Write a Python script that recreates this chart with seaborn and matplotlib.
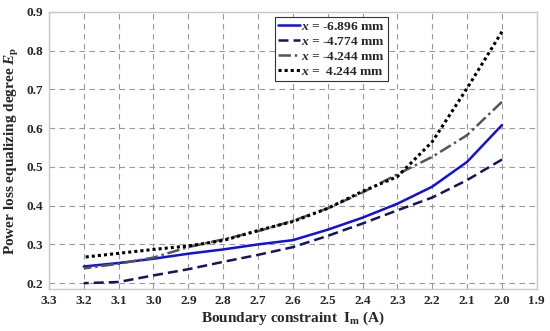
import matplotlib
matplotlib.use("Agg")
import matplotlib.pyplot as plt
import seaborn as sns
import pandas as pd

current = [3.2, 3.1, 3.0, 2.9, 2.8, 2.7, 2.6, 2.5, 2.4, 2.3, 2.2, 2.1, 2.0]
ep_m6896 = [0.243, 0.252, 0.263, 0.276, 0.287, 0.300, 0.311, 0.338, 0.369, 0.405, 0.449, 0.513, 0.608]
ep_m4774 = [0.200, 0.203, 0.220, 0.236, 0.255, 0.273, 0.293, 0.322, 0.354, 0.388, 0.421, 0.466, 0.519]
ep_m4244 = [0.238, 0.250, 0.266, 0.293, 0.313, 0.334, 0.361, 0.393, 0.434, 0.481, 0.526, 0.582, 0.668]
ep_p4244 = [0.267, 0.277, 0.287, 0.296, 0.310, 0.336, 0.359, 0.393, 0.437, 0.475, 0.565, 0.703, 0.849]
labels = [r"$x$ = -6.896 mm", r"$x$ = -4.774 mm", r"$x$ = -4.244 mm", r"$x$ =  4.244 mm"]
xticks = [3.3, 3.2, 3.1, 3.0, 2.9, 2.8, 2.7, 2.6, 2.5, 2.4, 2.3, 2.2, 2.1, 2.0, 1.9]
yticks = [0.2, 0.3, 0.4, 0.5, 0.6, 0.7, 0.8, 0.9]

sns.set_style("white")
plt.rcParams["font.family"] = ["Liberation Serif", "DejaVu Serif"]
plt.rcParams["font.weight"] = "bold"
plt.rcParams["mathtext.fontset"] = "custom"
plt.rcParams["mathtext.rm"] = "Liberation Serif:bold"
plt.rcParams["mathtext.it"] = "Liberation Serif:bold:italic"
plt.rcParams["mathtext.bf"] = "Liberation Serif:bold"

fig = plt.figure(figsize=(5.5, 3.31), dpi=100)
ax = fig.add_axes([0.089, 0.127, 0.887, 0.837])

series = [ep_m6896, ep_m4774, ep_m4244, ep_p4244]
colors = ["#1010e0", "#14145e", "#555555", "#000000"]
styles = ["-", (0, (4, 2)), (0, (5, 1.5, 1, 1.5)), (0, (1, 1))]
widths = [1.8, 1.8, 1.8, 2.2]
for vals, lab, c, ls, lw in zip(series, labels, colors, styles, widths):
    df = pd.DataFrame({"I": current, "Ep": vals})
    sns.lineplot(data=df, x="I", y="Ep", ax=ax, color=c, linestyle=ls, linewidth=lw, label=lab)

ax.set_xlim(3.3, 1.9)
ax.set_ylim(0.185, 0.9)
ax.set_xticks(xticks)
ax.set_xticklabels([f"{t:.1f}" for t in xticks])
ax.set_yticks(yticks)
ax.set_yticklabels([f"{t:.1f}" for t in yticks])
ax.tick_params(axis="both", labelsize=9.5, length=0, pad=4)
for lab in ax.get_xticklabels() + ax.get_yticklabels():
    lab.set_fontweight("bold")
ax.grid(True, color="#999999", linestyle=(0, (5, 4)), linewidth=0.8)
for sp in ax.spines.values():
    sp.set_color("#c8c8c8")
    sp.set_linewidth(1.0)

ax.set_xlabel(r"Boundary constraint  I$_\mathrm{m}$ (A)", fontsize=11, fontweight="bold", labelpad=2)
ax.set_ylabel(r"Power loss equalizing degree $E_\mathrm{p}$", fontsize=11, fontweight="bold", labelpad=4)

leg = ax.legend(loc="upper left", bbox_to_anchor=(0.463, 0.982), fontsize=9.7, frameon=True,
                fancybox=False, framealpha=1, edgecolor="#333333", handlelength=1.6,
                handletextpad=0.1, borderpad=0.25, labelspacing=0.2, borderaxespad=0)
leg.get_frame().set_linewidth(0.8)
for t in leg.get_texts():
    t.set_fontweight("bold")

fig.savefig("out.png", dpi=100)
